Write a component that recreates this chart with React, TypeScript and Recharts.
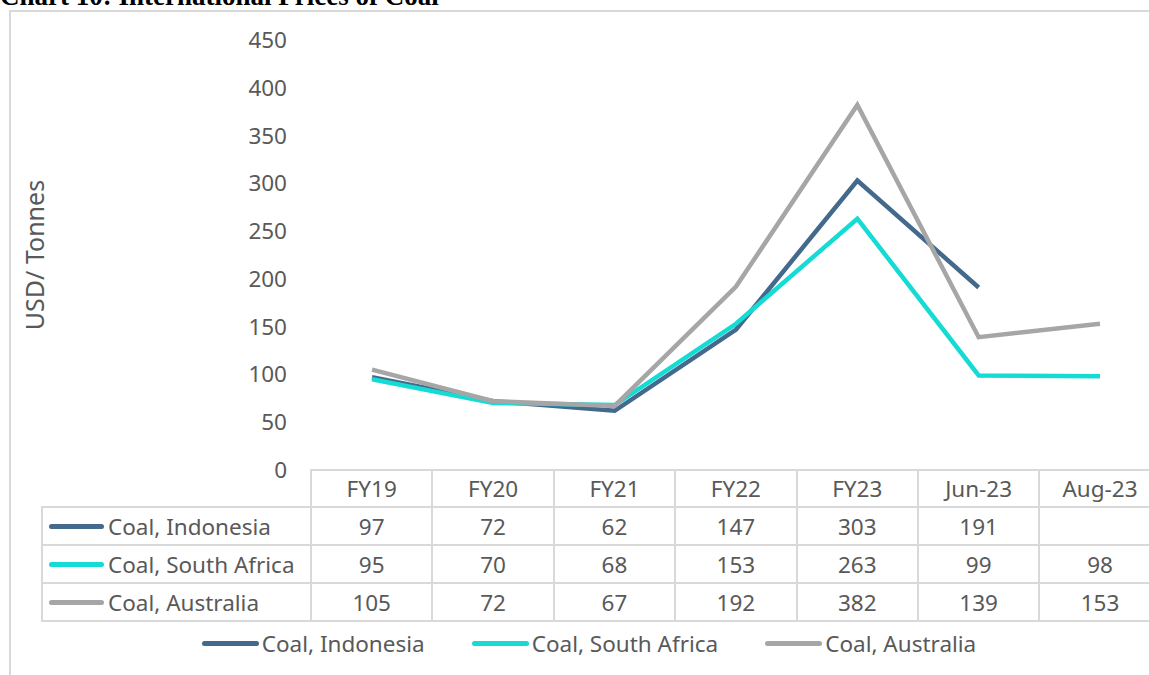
import React from 'react';
import { LineChart, Line, XAxis, YAxis, Label } from 'recharts';

const categories = ['FY19', 'FY20', 'FY21', 'FY22', 'FY23', 'Jun-23', 'Aug-23'];
const indonesia: (number | null)[] = [97, 72, 62, 147, 303, 191, null];
const southAfrica: (number | null)[] = [95, 70, 68, 153, 263, 99, 98];
const australia: (number | null)[] = [105, 72, 67, 192, 382, 139, 153];
const yTicks = [0, 50, 100, 150, 200, 250, 300, 350, 400, 450];

const series = [
    { key: 'indonesia', name: 'Coal, Indonesia', color: '#43698D', values: indonesia },
    { key: 'southAfrica', name: 'Coal, South Africa', color: '#14DBD3', values: southAfrica },
    { key: 'australia', name: 'Coal, Australia', color: '#A6A6A6', values: australia },
];

const data = categories.map((cat, i) => {
    const row: Record<string, any> = { cat };
    series.forEach((s) => { row[s.key] = s.values[i]; });
    return row;
});

const FONT = "'Noto Sans', sans-serif";
const TEXT = '#595959';
const GRID = '#d9d9d9';

const YTitle = (props: any) => {
    const { viewBox } = props;
    const cx = viewBox.x + 34;
    const cy = viewBox.y + viewBox.height / 2;
    return (
        <text
            x={cx}
            y={cy}
            transform={`rotate(-90 ${cx} ${cy})`}
            textAnchor="middle"
            dominantBaseline="central"
            fill={TEXT}
            fontFamily={FONT}
            fontSize={25}
        >
            USD/ Tonnes
        </text>
    );
};

const LineIcon: React.FC<{ color: string; width: number }> = ({ color, width }) => (
    <span style={{ display: 'inline-block', width, height: 5, borderRadius: 3, background: color, flex: 'none' }} />
);

const cell: React.CSSProperties = {
    border: `2px solid ${GRID}`,
    padding: 0,
    textAlign: 'center',
    color: TEXT,
    fontFamily: FONT,
    fontSize: 22.5,
    whiteSpace: 'nowrap',
    overflow: 'hidden',
};

export default function App() {
    return (
        <div style={{ position: 'fixed', left: 0, top: 0, width: 1149, height: 675, overflow: 'hidden', background: '#fff' }}>
            <div
                style={{
                    position: 'absolute', left: 0, top: -17, fontFamily: "'Liberation Serif', serif",
                    fontWeight: 'bold', fontSize: 27, lineHeight: '27px', color: '#000', whiteSpace: 'nowrap',
                }}
            >
                Chart 10: International Prices of Coal
            </div>
            <div style={{ position: 'absolute', left: 9, top: 10, width: 1400, height: 1000, border: `2px solid ${GRID}` }} />

            <div style={{ position: 'absolute', left: 0, top: 0 }}>
                <LineChart width={1200} height={500} data={data} margin={{ top: 40, right: 39, left: 0, bottom: 30 }}>
                    <XAxis dataKey="cat" hide padding={{ left: 61, right: 61 }} />
                    <YAxis
                        width={311}
                        domain={[0, 450]}
                        ticks={yTicks}
                        interval={0}
                        axisLine={false}
                        tickLine={false}
                        tickMargin={18}
                        tick={{ fill: TEXT, fontFamily: FONT, fontSize: 22.5 }}
                    >
                        <Label content={<YTitle />} />
                    </YAxis>
                    {series.map((s) => (
                        <Line
                            key={s.key}
                            dataKey={s.key}
                            name={s.name}
                            stroke={s.color}
                            strokeWidth={4.5}
                            dot={false}
                            activeDot={false}
                            type="linear"
                            isAnimationActive={false}
                        />
                    ))}
                </LineChart>
            </div>

            <table
                style={{
                    position: 'absolute', left: 41, top: 469, borderCollapse: 'collapse', tableLayout: 'fixed',
                    width: 269 + categories.length * 121.4,
                }}
            >
                <colgroup>
                    <col style={{ width: 269 }} />
                    {categories.map((c) => <col key={c} style={{ width: 121.4 }} />)}
                </colgroup>
                <tbody>
                    <tr style={{ height: 37 }}>
                        <td style={{ ...cell, border: 'none' }} />
                        {categories.map((c) => <td key={c} style={cell}>{c}</td>)}
                    </tr>
                    {series.map((s) => (
                        <tr key={s.key} style={{ height: 38 }}>
                            <td style={{ ...cell, textAlign: 'left' }}>
                                <div style={{ display: 'flex', alignItems: 'center', paddingLeft: 6, gap: 4 }}>
                                    <LineIcon color={s.color} width={55} />
                                    <span>{s.name}</span>
                                </div>
                            </td>
                            {s.values.map((v, i) => <td key={i} style={cell}>{v == null ? '' : v}</td>)}
                        </tr>
                    ))}
                </tbody>
            </table>

            <div
                style={{
                    position: 'absolute', left: 10, top: 628, width: 1158, height: 31, display: 'flex',
                    justifyContent: 'center', alignItems: 'center', gap: 47,
                }}
            >
                {series.map((s) => (
                    <div key={s.key} style={{ display: 'flex', alignItems: 'center', gap: 3 }}>
                        <LineIcon color={s.color} width={57} />
                        <span style={{ color: TEXT, fontFamily: FONT, fontSize: 22.5, whiteSpace: 'nowrap' }}>{s.name}</span>
                    </div>
                ))}
            </div>
        </div>
    );
}
